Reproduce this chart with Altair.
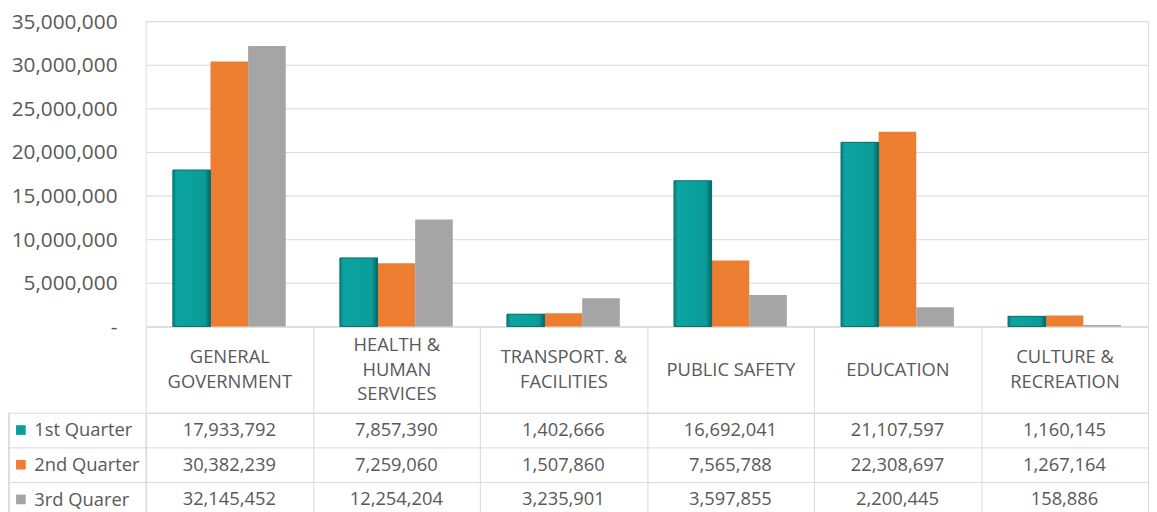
import altair as alt
import pandas as pd

categories = ["GENERAL|GOVERNMENT", "HEALTH &|HUMAN|SERVICES", "TRANSPORT. &|FACILITIES",
              "PUBLIC SAFETY", "EDUCATION", "CULTURE &|RECREATION"]
series = ["1st Quarter", "2nd Quarter", "3rd Quarer"]
q1 = [17933792, 7857390, 1402666, 16692041, 21107597, 1160145]
q2 = [30382239, 7259060, 1507860, 7565788, 22308697, 1267164]
q3 = [32145452, 12254204, 3235901, 3597855, 2200445, 158886]
colors = ["#0A9E9A", "#ED7D31", "#A5A5A5"]
y_ticks = [0, 5000000, 10000000, 15000000, 20000000, 25000000, 30000000, 35000000]

rows = []
for s, vals in zip(series, [q1, q2, q3]):
    for c, v in zip(categories, vals):
        rows.append({"cat": c, "series": s, "value": v})
df = pd.DataFrame(rows)
legend_df = pd.DataFrame({"series": series})

FONT = "Open Sans"
TXT = "#595959"
LINE = "#D9D9D9"
W = 1011
H = 308
LEFT = 138
HEAD = 86
ROWS_H = 105
LH = 25

head_pad = {
    "condition": [
        {"test": "length(split(datum.value, '|')) == 3", "value": -HEAD / 2 - LH},
        {"test": "length(split(datum.value, '|')) == 2", "value": -HEAD / 2 - LH / 2},
    ],
    "value": -HEAD / 2,
}

x_top = alt.X("cat:N", sort=categories,
              scale=alt.Scale(domain=categories, paddingInner=0, paddingOuter=0),
              axis=alt.Axis(title=None, labelExpr="split(datum.label, '|')", labelFont=FONT,
                            labelFontSize=18.5, labelColor=TXT, labelAngle=0, labelAlign="center",
                            labelBaseline="middle", labelPadding=head_pad, labelLineHeight=LH,
                            labelOverlap=False, labelLimit=300,
                            tickBand="extent", ticks=True, tickSize=HEAD, tickColor=LINE,
                            domain=True, domainColor=LINE, grid=False,
                            minExtent=HEAD, maxExtent=HEAD))
x_off = alt.XOffset("series:N", sort=series,
                    scale=alt.Scale(domain=series, paddingInner=0, paddingOuter=0.72))
y_top = alt.Y("value:Q", scale=alt.Scale(domain=[0, 35000000], nice=False),
              axis=alt.Axis(values=y_ticks, title=None,
                            labelExpr="datum.value == 0 ? '-' : format(datum.value, ',')",
                            grid=True, gridColor=LINE, domain=False, ticks=False,
                            labelPadding=29, labelOffset=1, labelFont=FONT, labelFontSize=21,
                            labelColor=TXT, minExtent=LEFT, maxExtent=LEFT))

bars = alt.Chart(df).mark_bar().encode(
    x=x_top, xOffset=x_off, y=y_top,
    color=alt.Color("series:N", scale=alt.Scale(domain=series, range=colors), legend=None),
)

teal_grad = alt.Gradient(
    gradient="linear", x1=0, x2=1, y1=0, y2=0,
    stops=[alt.GradientStop(color="#067E7B", offset=0),
           alt.GradientStop(color="#0CA5A1", offset=0.1),
           alt.GradientStop(color="#0A9C98", offset=0.85),
           alt.GradientStop(color="#056360", offset=1)],
)
teal = alt.Chart(df).transform_filter(alt.datum.series == series[0]).mark_bar(
    fill=teal_grad, stroke="#06706D", strokeWidth=1
).encode(x=x_top, xOffset=x_off, y=y_top)

top = alt.layer(bars, teal).properties(width=W, height=H)

x_tbl = alt.X("cat:N", sort=categories,
              scale=alt.Scale(domain=categories, paddingInner=0, paddingOuter=0),
              axis=alt.Axis(title=None, grid=True, gridColor=LINE, tickBand="extent",
                            labels=False, ticks=False, domain=False, minExtent=0, maxExtent=0))
y_tbl = alt.Y("series:N", sort=series,
              scale=alt.Scale(domain=series, paddingInner=0, paddingOuter=0),
              axis=alt.Axis(title=None, grid=True, gridColor=LINE, tickBand="extent",
                            ticks=True, tickSize=LEFT, tickColor=LINE,
                            domain=True, domainColor=LINE,
                            labelAlign="left", labelBaseline="middle", labelPadding=-25,
                            labelFont=FONT, labelFontSize=18.5, labelColor=TXT,
                            minExtent=LEFT, maxExtent=LEFT))

cells = alt.Chart(df).mark_text(font=FONT, fontSize=18.5, color=TXT).encode(
    x=x_tbl, y=y_tbl, text=alt.Text("value:Q", format=",")
)
keys = alt.Chart(legend_df).mark_point(shape="square", filled=True, size=95, opacity=1).encode(
    x=alt.value(-126), y=y_tbl,
    color=alt.Color("series:N", scale=alt.Scale(domain=series, range=colors), legend=None),
)
left_border = alt.Chart(legend_df).mark_rule(color=LINE, strokeWidth=1).encode(
    x=alt.value(-LEFT), y=alt.value(0), y2=alt.value(ROWS_H)
)

table = alt.layer(cells, keys, left_border).properties(width=W, height=ROWS_H)

chart = alt.vconcat(top, table, spacing=-12).resolve_scale(
    x="independent", y="independent", color="independent"
).properties(
    padding={"left": 0, "top": 0, "right": 0, "bottom": 0}
).configure_view(stroke=None).configure(background="white")

chart.save("out.html", embed_options={"renderer": "svg", "actions": False})
